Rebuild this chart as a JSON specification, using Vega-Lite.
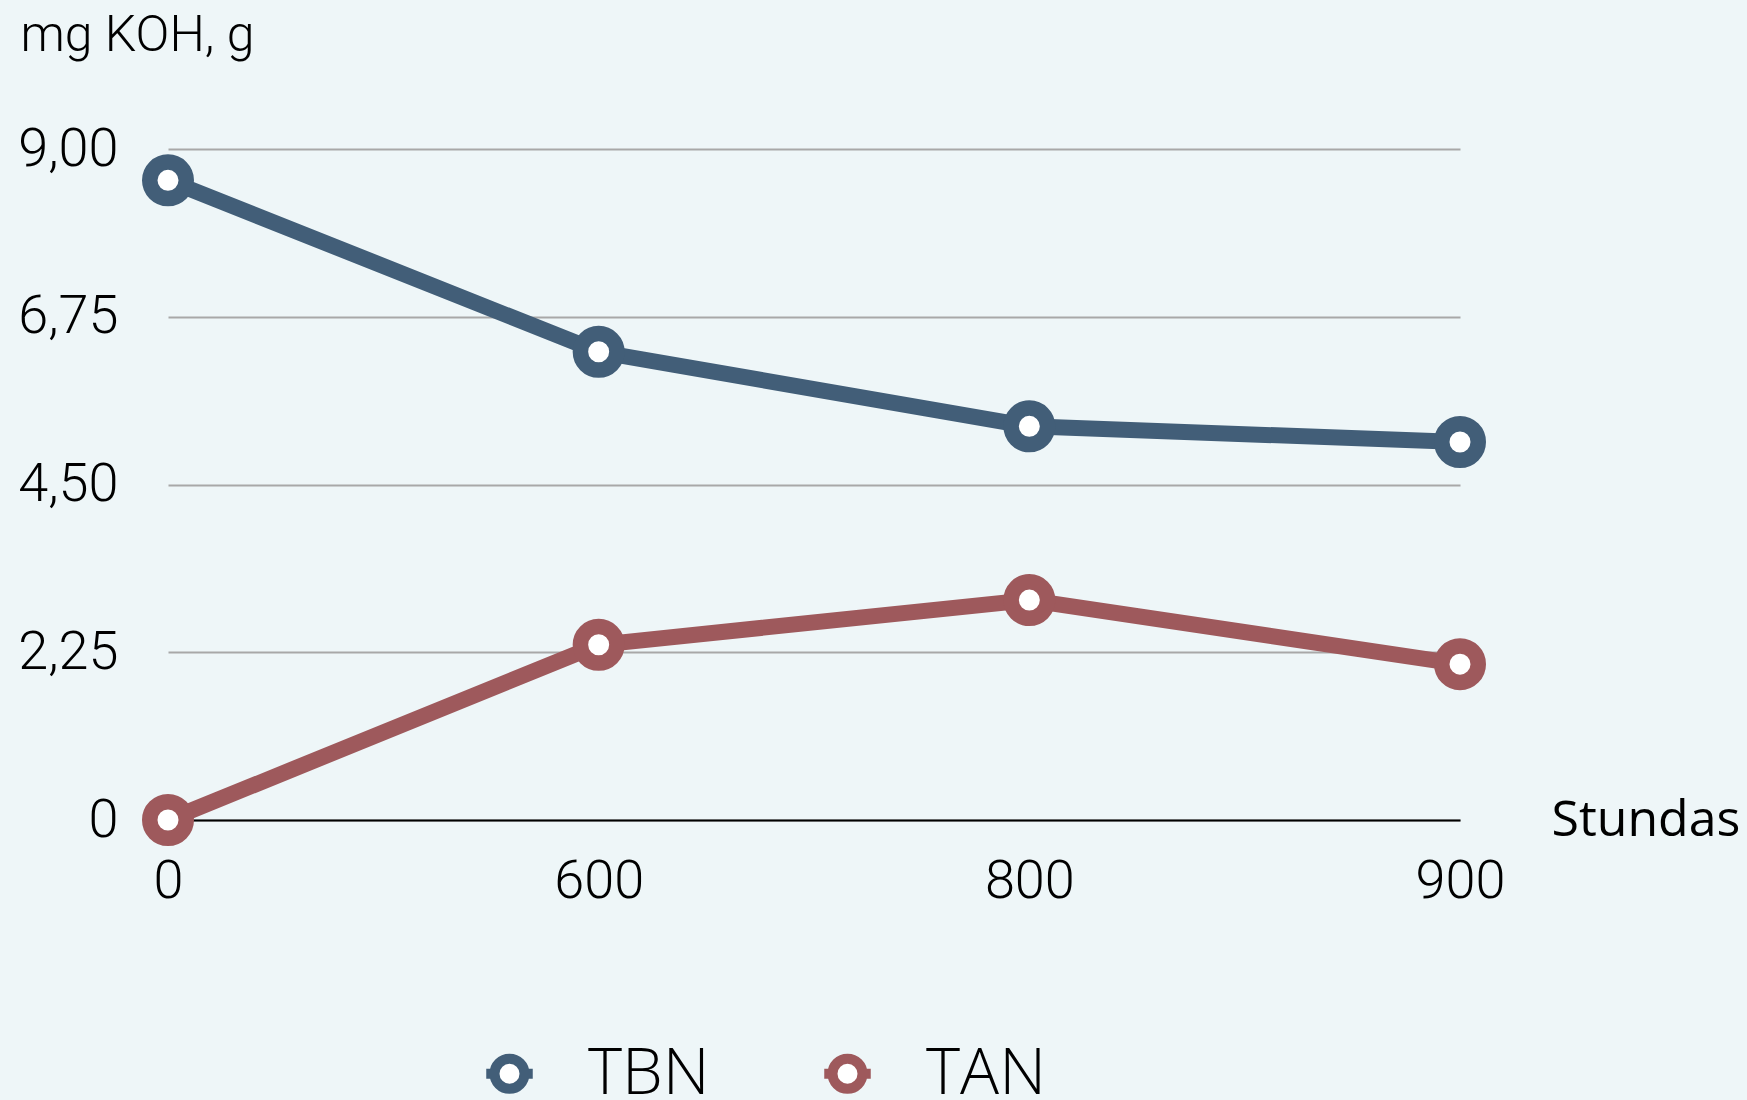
{
  "$schema": "https://vega.github.io/schema/vega-lite/v6.json",
  "width": 1292,
  "height": 671,
  "autosize": {"type": "none"},
  "padding": {"left": 168, "top": 149, "right": 287, "bottom": 280},
  "background": "#eef6f8",
  "config": {"view": {"stroke": null}},
  "data": {
    "values": [
      {"Stundas": 0, "series": "TBN", "value": 8.58},
      {"Stundas": 600, "series": "TBN", "value": 6.28},
      {"Stundas": 800, "series": "TBN", "value": 5.28},
      {"Stundas": 900, "series": "TBN", "value": 5.07},
      {"Stundas": 0, "series": "TAN", "value": 0.0},
      {"Stundas": 600, "series": "TAN", "value": 2.35},
      {"Stundas": 800, "series": "TAN", "value": 2.95},
      {"Stundas": 900, "series": "TAN", "value": 2.09}
    ]
  },
  "encoding": {
    "x": {
      "field": "Stundas",
      "type": "ordinal",
      "scale": {"type": "point", "padding": 0},
      "axis": {
        "title": "Stundas",
        "titleFont": "Open Sans",
        "titleFontSize": 50,
        "titleFontWeight": "normal",
        "titleColor": "#000000",
        "titleAlign": "left",
        "titleBaseline": "middle",
        "titleAnchor": null,
        "titleX": 1383,
        "titleY": 0,
        "labelAngle": 0,
        "labelFont": "Roboto",
        "labelFontWeight": 300,
        "labelFontSize": 54,
        "labelColor": "#000000",
        "labelPadding": 34,
        "ticks": false,
        "grid": false,
        "domainColor": "#000000",
        "domainWidth": 2,
        "zindex": 0
      }
    },
    "y": {
      "field": "value",
      "type": "quantitative",
      "scale": {"domain": [0, 9], "nice": false, "zero": true},
      "axis": {
        "title": "mg KOH, g",
        "titleFont": "Roboto",
        "titleFontSize": 50,
        "titleFontWeight": 300,
        "titleColor": "#000000",
        "titleAngle": 0,
        "titleAlign": "left",
        "titleBaseline": "alphabetic",
        "titleAnchor": null,
        "titleX": -148,
        "titleY": -99,
        "values": [0, 2.25, 4.5, 6.75, 9],
        "labelExpr": "datum.value == 0 ? '0' : replace(format(datum.value, '.2f'), '.', ',')",
        "labelFont": "Roboto",
        "labelFontWeight": 300,
        "labelFontSize": 54,
        "labelColor": "#000000",
        "labelPadding": 50,
        "ticks": false,
        "domain": false,
        "gridColor": "#a8a8a8",
        "gridWidth": 2,
        "zindex": 0
      }
    },
    "color": {
      "field": "series",
      "type": "nominal",
      "scale": {"domain": ["TBN", "TAN"], "range": ["#425e78", "#9e595c"]},
      "legend": {
        "title": null,
        "orient": "none",
        "direction": "horizontal",
        "legendX": 309,
        "legendY": 892,
        "symbolType": "M -1 0 A 1 1 0 1 1 1 0 A 1 1 0 1 1 -1 0 Z M -1.55 0 L -1 0 M 1 0 L 1.55 0",
        "symbolSize": 900,
        "symbolStrokeWidth": 10,
        "symbolFillColor": "#ffffff",
        "symbolOpacity": 1,
        "labelFont": "Open Sans",
        "labelFontWeight": 300,
        "labelFontSize": 65,
        "labelColor": "#000000",
        "labelOffset": 46,
        "columnPadding": 94,
        "labelLimit": 400
      }
    }
  },
  "layer": [
    {"mark": {"type": "line", "strokeWidth": 16}},
    {"mark": {"type": "point", "filled": false, "fill": "#ffffff", "fillOpacity": 1, "opacity": 1, "size": 1332, "strokeWidth": 15.5}}
  ]
}
